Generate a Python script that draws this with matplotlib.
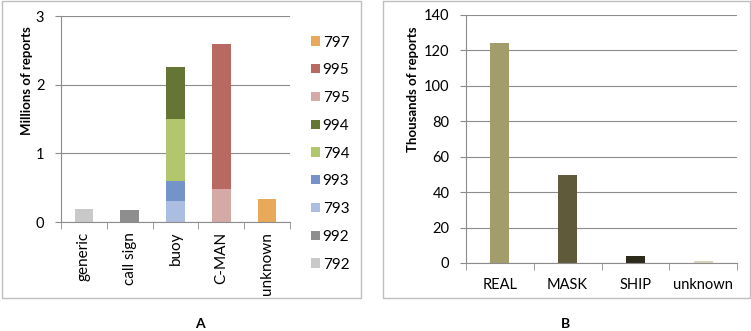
import matplotlib.pyplot as plt
from matplotlib.patches import Rectangle
import numpy as np

plt.rcParams["font.family"] = ["Lato", "DejaVu Sans"]
plt.rcParams["font.size"] = 10

# panel A: station id types, millions of reports, stacked by code
categories_a = ["generic", "call sign", "buoy", "C-MAN", "unknown"]
codes = ["792", "992", "793", "993", "794", "994", "795", "995", "797"]
s792 = [0.19, 0, 0, 0, 0]
s992 = [0, 0.17, 0, 0, 0]
s793 = [0, 0, 0.30, 0, 0]
s993 = [0, 0, 0.30, 0, 0]
s794 = [0, 0, 0.90, 0, 0]
s994 = [0, 0, 0.76, 0, 0]
s795 = [0, 0, 0, 0.48, 0]
s995 = [0, 0, 0, 2.11, 0]
s797 = [0, 0, 0, 0, 0.33]
series_a = [s792, s992, s793, s993, s794, s994, s795, s995, s797]
colors_a = ["#c9c9c9", "#8e8e8e", "#abbde0", "#7393c9", "#b2c76d",
            "#657634", "#d5a9a6", "#b86a62", "#e9a95a"]

# panel B: thousands of reports by category
categories_b = ["REAL", "MASK", "SHIP", "unknown"]
values_b = [124, 49.5, 4, 1]
colors_b = ["#a39d6b", "#5e5a3a", "#2c2a1b", "#d9d5ba"]

W, H = 751, 331
grid_c = "#8c8c8c"
fig = plt.figure(figsize=(W / 100, H / 100), dpi=100)


def px(x, y):
    # pixel coords (from top-left) -> figure fraction
    return x / W, 1 - y / H


# outer frames around each panel
for x0, x1 in [(2, 361), (383, 750)]:
    fig.patches.append(Rectangle(px(x0, 298), (x1 - x0) / W, 297 / H,
                                 transform=fig.transFigure, fill=False,
                                 edgecolor="#bfbfbf", linewidth=1))


def style_axes(ax, n):
    ax.set_xlim(-0.5, n - 0.5)
    ax.yaxis.grid(True, color=grid_c, linewidth=0.8)
    ax.set_axisbelow(True)
    for side in ["top", "right"]:
        ax.spines[side].set_visible(False)
    for side in ["left", "bottom"]:
        ax.spines[side].set_color(grid_c)
        ax.spines[side].set_linewidth(0.8)
    ax.tick_params(axis="y", length=4, color=grid_c, pad=8, labelsize=10.5)
    ax.tick_params(axis="x", which="major", length=0)
    ax.set_xticks(np.arange(-0.5, n), minor=True)
    ax.tick_params(axis="x", which="minor", length=5, color=grid_c)


# ---- panel A ----
ax1 = fig.add_axes([61 / W, 1 - 222 / H, 229 / W, 206 / H])
x = np.arange(len(categories_a))
bottom = np.zeros(len(categories_a))
handles = []
for code, vals, c in zip(codes, series_a, colors_a):
    h = ax1.bar(x, vals, width=0.41, bottom=bottom, color=c, label=code)
    handles.append(h)
    bottom += np.array(vals)
style_axes(ax1, len(categories_a))
ax1.set_ylim(0, 3)
ax1.set_yticks([0, 1, 2, 3])
ax1.set_xticks(x)
ax1.set_xticklabels(categories_a, rotation=90, fontsize=11)
ax1.tick_params(axis="x", which="major", pad=7)
ax1.legend(handles[::-1], codes[::-1], loc="upper left", fontsize=11,
           bbox_to_anchor=(1.066, 0.935), borderaxespad=0, frameon=False,
           handlelength=0.55, handleheight=0.55, labelspacing=0.9,
           handletextpad=0.2)
fig.text(*px(27, 81), "Millions of reports", rotation=90, ha="center",
         va="center", fontweight="bold", fontsize=9.5)

# ---- panel B ----
ax2 = fig.add_axes([466 / W, 1 - 263 / H, 271 / W, 248 / H])
xb = np.arange(len(categories_b))
ax2.bar(xb, values_b, width=0.28, color=colors_b)
style_axes(ax2, len(categories_b))
ax2.set_ylim(0, 140)
ax2.set_yticks(np.arange(0, 141, 20))
ax2.set_xticks(xb)
ax2.set_xticklabels(categories_b, fontsize=10.5)
ax2.tick_params(axis="x", which="major", pad=11)
fig.text(*px(413, 89), "Thousands of reports", rotation=90, ha="center",
         va="center", fontweight="bold", fontsize=9.5)

fig.text(*px(200, 324), "A", ha="center", va="center", fontweight="bold")
fig.text(*px(566, 324), "B", ha="center", va="center", fontweight="bold")

fig.savefig("out.png", dpi=100)
